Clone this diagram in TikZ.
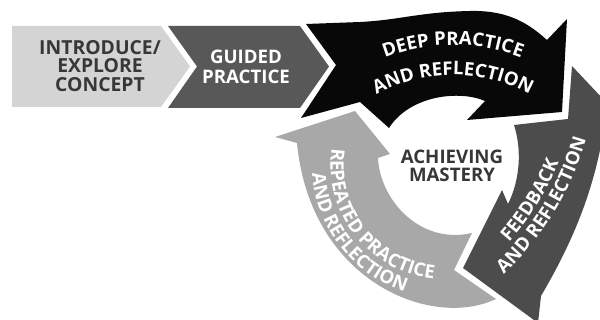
\documentclass[tikz,border=0pt]{standalone}
\usepackage{fontspec}
\setmainfont{Open Sans}
\usetikzlibrary{decorations.text}

\definecolor{introgray}{RGB}{212,212,212}
\definecolor{guidegray}{RGB}{88,88,88}
\definecolor{deepblack}{RGB}{8,8,8}
\definecolor{feedgray}{RGB}{76,76,76}
\definecolor{repgray}{RGB}{168,168,168}
\definecolor{labelgray}{RGB}{55,55,55}

\newcommand{\curvefont}{\fontsize{14}{14}\selectfont\bfseries}

\tikzset{every picture/.style={line width=0.75pt}}
\tikzset{
  band/.style={draw opacity=0, fill opacity=1},
  introband/.style={band, fill=introgray},
  guideband/.style={band, fill=guidegray},
  deepband/.style={band, fill=deepblack},
  feedband/.style={band, fill=feedgray},
  repband/.style={band, fill=repgray},
  darklabel/.style={inner sep=0.75pt, align=center, text=labelgray, font=\fontsize{14}{13.6}\selectfont\bfseries},
  whitelabel/.style={inner sep=0.75pt, align=center, text=white, font=\fontsize{14}{15}\selectfont\bfseries},
  curvetext/.style={decorate, decoration={text along path, text align=center, text color=white}}
}

\begin{document}
\begin{tikzpicture}[x=0.75pt,y=0.75pt,yscale=-1,xscale=1]
%set diagram left start at 0, and has height of 320
\useasboundingbox (0,0) rectangle (600,320);
\clip (0,0) rectangle (600,320);

%Shape: Chevron [intro]
\draw [introband] (12,26) -- (161,26) -- (190,66.5) -- (161,107) -- (12,107) -- cycle ;
%Shape: Chevron [guided]
\draw [guideband] (168,26) -- (300,26) -- (329,66.5) -- (300,108) -- (168,108) -- (197,66.5) -- cycle ;
%Shape: Curved Arrow [deep]
\draw [deepband] (306,24) -- (360,22) .. controls (400,20) and (420,12) .. (470,11) .. controls (510,10) and (530,25) .. (547,40) -- (567,19) -- (562,112) -- (467,120) -- (485,101) .. controls (460,90) and (410,95) .. (389,128) -- (360,102) -- (301,118) -- (336,65) -- cycle ;
%Shape: Curved Arrow [feedback]
\draw [feedband] (572,66) -- (568,119) -- (514,125) .. controls (522,150) and (520,180) .. (508,204) -- (502,190) -- (463,268) -- (538,323) -- (541,296) .. controls (565,255) and (590,205) .. (602,140) -- (604,100) -- cycle ;
%Shape: Curved Arrow [repeated]
\draw [repband] (275,137) -- (355,111) -- (390,154) -- (378,158) .. controls (380,200) and (420,245) .. (472,233) -- (454,270) -- (496,299) .. controls (430,330) and (310,280) .. (297,143) -- cycle ;

% Text Node
\draw (100,66) node (intro) [darklabel, font=\fontsize{14.5}{13.9}\selectfont\bfseries] {INTRODUCE/\\EXPLORE\\CONCEPT};
% Text Node
\draw (246,66.5) node (guided) [whitelabel] {GUIDED\\PRACTICE};
% Text Node
\draw (452,166) node (mastery) [darklabel] {ACHIEVING\\MASTERY};

% Curved Text [deep]
\path [curvetext, decoration={text={|\curvefont|DEEP PRACTICE}}] (453,235) ++(-130:190) arc [start angle=-130, end angle=-50, radius=190];
\path [curvetext, decoration={text={|\curvefont|AND REFLECTION}}] (453,235) ++(-128:160) arc [start angle=-128, end angle=-52, radius=160];
% Curved Text [repeated]
\path [curvetext, decoration={text={|\curvefont|REPEATED PRACTICE}}] (445,165) ++(-140:114.5) arc [start angle=-140, end angle=-296, radius=114.5];
\path [curvetext, decoration={text={|\curvefont|AND REFLECTION}}] (445,165) ++(-140:133) arc [start angle=-140, end angle=-296, radius=133];
% Curved Text [feedback]
\path [curvetext, decoration={text={|\curvefont|FEEDBACK}}] (298,56) ++(56.8:281.5) arc [start angle=56.8, end angle=6.8, radius=281.5];
\path [curvetext, decoration={text={|\curvefont|AND REFLECTION}}] (298,56) ++(56.4:300) arc [start angle=56.4, end angle=6.4, radius=300];

\end{tikzpicture}
\end{document}
